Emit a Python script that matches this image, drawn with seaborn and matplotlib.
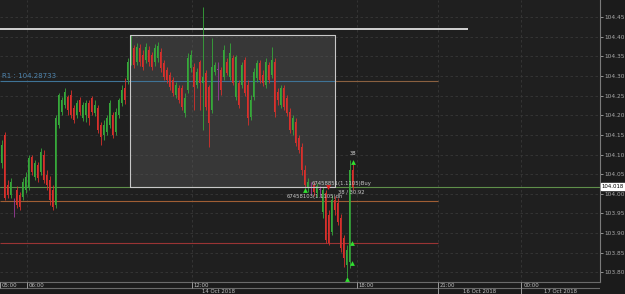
import numpy as np
import pandas as pd
import matplotlib
matplotlib.use("Agg")
import matplotlib.pyplot as plt
import matplotlib.transforms as mtransforms
import seaborn as sns

# ---------------- data ----------------
open_ = [104.078, 104.150, 104.022, 103.997, 103.984, 104.010, 103.997, 103.992, 104.010, 104.015,
         104.094, 104.043, 104.073, 104.055, 104.099, 104.048, 104.035, 104.010, 103.971, 104.175,
         104.208, 104.226, 104.247, 104.252, 104.219, 104.201, 104.239, 104.193, 104.201, 104.231,
         104.244, 104.206, 104.219, 104.175, 104.150, 104.157, 104.175, 104.201, 104.157, 104.201,
         104.231, 104.270, 104.290, 104.336, 104.372, 104.336, 104.372, 104.354, 104.341, 104.367,
         104.354, 104.336, 104.346, 104.361, 104.333, 104.316, 104.303, 104.290, 104.252, 104.270,
         104.270, 104.206, 104.265, 104.321, 104.323, 104.277, 104.336, 104.282, 104.308, 104.272,
         104.214, 104.310, 104.316, 104.316, 104.298, 104.336, 104.298, 104.346, 104.247, 104.282,
         104.277, 104.341, 104.277, 104.196, 104.247, 104.295, 104.333, 104.303, 104.277, 104.328,
         104.303, 104.336, 104.259, 104.226, 104.270, 104.244, 104.208, 104.163, 104.183, 104.142,
         104.119, 104.061, 104.015, 104.015, 104.022, 104.002, 104.010, 103.953, 104.002, 103.946,
         103.902, 103.984, 103.976, 103.938, 103.887, 103.818, 103.826, 104.061]
high = [104.137, 104.157, 104.035, 104.040, 103.989, 104.020, 104.004, 104.040, 104.055, 104.099,
        104.099, 104.086, 104.081, 104.117, 104.112, 104.061, 104.045, 104.022, 104.201, 104.257,
        104.247, 104.270, 104.252, 104.265, 104.226, 104.239, 104.247, 104.234, 104.239, 104.239,
        104.249, 104.239, 104.226, 104.183, 104.188, 104.201, 104.239, 104.208, 104.219, 104.244,
        104.277, 104.295, 104.346, 104.405, 104.379, 104.384, 104.382, 104.367, 104.384, 104.377,
        104.361, 104.382, 104.387, 104.372, 104.341, 104.323, 104.310, 104.298, 104.285, 104.277,
        104.277, 104.257, 104.359, 104.367, 104.333, 104.321, 104.341, 104.476, 104.316, 104.277,
        104.397, 104.336, 104.336, 104.323, 104.379, 104.346, 104.384, 104.354, 104.354, 104.290,
        104.336, 104.349, 104.290, 104.252, 104.321, 104.341, 104.341, 104.316, 104.346, 104.336,
        104.374, 104.346, 104.270, 104.277, 104.277, 104.252, 104.219, 104.201, 104.193, 104.150,
        104.129, 104.073, 104.040, 104.030, 104.030, 104.027, 104.020, 104.017, 104.010, 103.958,
        103.997, 103.994, 103.989, 103.948, 103.895, 103.869, 104.086, 104.081]
low = [104.066, 103.984, 103.989, 103.989, 103.941, 103.964, 103.958, 103.984, 104.002, 104.010,
       104.048, 104.035, 104.030, 104.048, 104.027, 104.010, 103.971, 103.958, 103.964, 104.168,
       104.201, 104.219, 104.201, 104.193, 104.180, 104.193, 104.201, 104.185, 104.183, 104.175,
       104.201, 104.198, 104.155, 104.124, 104.137, 104.150, 104.168, 104.142, 104.150, 104.193,
       104.224, 104.229, 104.280, 104.328, 104.321, 104.328, 104.326, 104.316, 104.333, 104.326,
       104.316, 104.326, 104.336, 104.310, 104.290, 104.282, 104.265, 104.249, 104.244, 104.231,
       104.214, 104.196, 104.257, 104.310, 104.214, 104.270, 104.214, 104.163, 104.214, 104.119,
       104.206, 104.303, 104.239, 104.252, 104.290, 104.303, 104.290, 104.277, 104.239, 104.219,
       104.270, 104.249, 104.175, 104.188, 104.239, 104.285, 104.282, 104.275, 104.270, 104.282,
       104.295, 104.196, 104.226, 104.219, 104.214, 104.198, 104.155, 104.150, 104.122, 104.104,
       104.048, 104.015, 104.004, 103.999, 103.994, 103.992, 103.992, 103.938, 103.874, 103.869,
       103.895, 103.946, 103.920, 103.851, 103.813, 103.788, 103.811, 104.010]
close = [104.124, 103.989, 103.997, 104.030, 103.984, 103.971, 103.966, 104.030, 104.043, 104.091,
         104.055, 104.078, 104.040, 104.106, 104.035, 104.022, 103.984, 103.966, 104.193, 104.252,
         104.239, 104.259, 104.214, 104.201, 104.188, 104.231, 104.208, 104.226, 104.231, 104.193,
         104.208, 104.226, 104.163, 104.145, 104.175, 104.193, 104.231, 104.150, 104.208, 104.239,
         104.265, 104.239, 104.336, 104.372, 104.328, 104.374, 104.336, 104.323, 104.374, 104.336,
         104.323, 104.372, 104.377, 104.321, 104.298, 104.290, 104.272, 104.257, 104.277, 104.239,
         104.221, 104.244, 104.346, 104.354, 104.272, 104.310, 104.282, 104.298, 104.221, 104.180,
         104.323, 104.328, 104.316, 104.265, 104.367, 104.308, 104.359, 104.282, 104.349, 104.226,
         104.328, 104.257, 104.193, 104.239, 104.310, 104.333, 104.290, 104.282, 104.336, 104.290,
         104.341, 104.208, 104.239, 104.270, 104.221, 104.206, 104.163, 104.193, 104.129, 104.112,
         104.061, 104.022, 104.030, 104.015, 104.004, 104.020, 104.010, 104.010, 103.882, 103.874,
         103.984, 103.958, 103.928, 103.862, 103.836, 103.856, 104.061, 104.017]

price_ticks = [104.45, 104.40, 104.35, 104.30, 104.25, 104.20, 104.15, 104.10,
               104.05, 104.00, 103.95, 103.90, 103.85, 103.80]
time_labels = ["05:00", "06:00", "12:00", "18:00", "21:00", "00:00"]
time_pos = [-0.4, 8.4, 63.5, 118.5, 145.5, 173.3]
date_labels = ["14 Oct 2018", "16 Oct 2018", "17 Oct 2018"]
date_pos = [72.5, 159.5, 186.5]

r1_level = 104.28733
top_level = 104.420
pivot_level = 103.981
s1_level = 103.874
last_price = 104.018
box_x = [42.8, 111.2]
box_y = [104.017, 104.405]

buy_idx = [101.2, 117.2, 116.8, 116.8, 115.2]
buy_px = [104.010, 104.081, 103.874, 103.823, 103.783]
sell_idx = [108.8]
sell_px = [104.017]

# ---------------- style ----------------
sns.set_theme(style="dark")
plt.rcParams["font.family"] = ["DejaVu Sans"]
BG = "#1f1f1f"
GREEN = "#36a83a"
RED = "#d8302c"
PURPLE = "#9c3c9c"
TXT = "#a8a8a8"
GRID = "#383838"

W, H = 625, 294
fig = plt.figure(figsize=(W / 100, H / 100), dpi=100, facecolor="#1b1b1b")
ax = fig.add_axes([0, 12 / H, 600 / W, 282 / H])
ax.set_facecolor(BG)

df = pd.DataFrame({"o": open_, "h": high, "l": low, "c": close})
df["i"] = np.arange(len(df))
df["col"] = np.where(df.c > df.o, GREEN, np.where(df.c < df.o, RED, PURPLE))

XMIN, XMAX = -0.5, 199.5
YMIN, YMAX = 103.775, 104.494
ax.set_xlim(XMIN, XMAX)
ax.set_ylim(YMIN, YMAX)

# grid
for p in price_ticks:
    ax.axhline(p, color=GRID, lw=0.6, ls=(0, (3, 3)), zorder=0)
for t in time_pos[1:]:
    ax.axvline(t, color=GRID, lw=0.6, ls=(0, (3, 3)), zorder=0)

# rectangle box
ax.fill_between(box_x, box_y[0], box_y[1], color="#5a5a5a", alpha=0.42, lw=0, zorder=1)
ax.plot([box_x[0], box_x[1], box_x[1], box_x[0], box_x[0]],
        [box_y[0], box_y[0], box_y[1], box_y[1], box_y[0]], color="#c8c8c8", lw=0.8, zorder=5)

# level lines
ax.hlines(top_level, XMIN, 155.5, color="#e0e0e0", lw=1.3, zorder=2)
ax.hlines(r1_level, XMIN, box_x[1], color="#3f7396", lw=0.8, zorder=2)
ax.hlines(r1_level, box_x[1], 145.5, color="#8a6040", lw=0.8, zorder=2)
ax.hlines(pivot_level, XMIN, 145.5, color="#a05e34", lw=0.8, zorder=2)
ax.hlines(s1_level, XMIN, 145.5, color="#9a3434", lw=0.8, zorder=2)
ax.axhline(last_price, color="#5f8f4a", lw=0.8, zorder=2)

# candles
ax.vlines(df.i, df.l, df.h, colors=df.col, lw=0.6, zorder=3)
body_lo = np.minimum(df.o, df.c)
body_h = np.maximum(np.abs(df.c - df.o), 0.0012)
ax.bar(df.i, body_h, bottom=body_lo, width=0.55, color=df.col, lw=0, zorder=4)

# trade markers
sns.scatterplot(x=buy_idx, y=buy_px, marker="^", color="#30e030", s=12, linewidth=0, ax=ax, zorder=6)
sns.scatterplot(x=sell_idx, y=sell_px, marker="v", color="#e02020", s=12, linewidth=0, ax=ax, zorder=6)

# annotation texts
ax.text(0.2, r1_level + 0.004, "R1 : 104.28733", color="#4f86b0", fontsize=5, va="bottom", zorder=7)
ax.text(103.3, 104.027, "67458851(1.1105)Buy", color="#c8c8c8", fontsize=3.8, va="center", zorder=7)
ax.text(95.0, 103.992, "67458103(1.1105)dh", color="#c8c8c8", fontsize=3.8, va="center", zorder=7)
ax.text(112.2, 104.004, "38 / 30.92", color="#c8c8c8", fontsize=3.8, va="center", zorder=7)
ax.text(117.2, 104.095, "38", color="#d0d0d0", fontsize=3.8, ha="center", va="bottom", zorder=7)

# right axis
ax.yaxis.tick_right()
ax.set_yticks(price_ticks)
ax.set_yticklabels([f"{p:.2f}" for p in price_ticks])
ax.tick_params(axis="y", colors=TXT, labelsize=4.2, length=2, width=0.6, pad=1.0, direction="out")
ax.set_xticks([])
for s in ["left", "top"]:
    ax.spines[s].set_visible(False)
ax.spines["right"].set_color("#7a7a7a")
ax.spines["right"].set_linewidth(0.8)
ax.spines["bottom"].set_color("#6a6a6a")
ax.spines["bottom"].set_linewidth(0.8)

trans = mtransforms.blended_transform_factory(ax.transAxes, ax.transData)
ax.text(1.003, last_price, "104.018", transform=trans, fontsize=3.9, color="black", va="center", ha="left",
        bbox=dict(boxstyle="square,pad=0.2", fc="white", ec="white"), zorder=10, clip_on=False)

# bottom time strip
bx = fig.add_axes([0, 0, 600 / W, 12 / H])
bx.set_facecolor("#1b1b1b")
bx.set_xlim(XMIN, XMAX)
bx.set_ylim(0, 12)
bx.axis("off")
bx.axhline(6, color="#6a6a6a", lw=0.8)
for t, lab in zip(time_pos, time_labels):
    bx.text(t + 0.6, 8.8, lab, color="#c0c0c0", fontsize=3.9, va="center", ha="left")
    bx.vlines(t, 6, 12, color="#9a9a9a", lw=0.7)
for t, lab in zip(date_pos, date_labels):
    bx.text(t, 2.8, lab, color="#c0c0c0", fontsize=3.9, va="center", ha="center")
for t in time_pos[4:]:
    bx.vlines(t, 0, 6, color="#9a9a9a", lw=0.7)

fig.savefig("out.png", dpi=100, facecolor=fig.get_facecolor())
